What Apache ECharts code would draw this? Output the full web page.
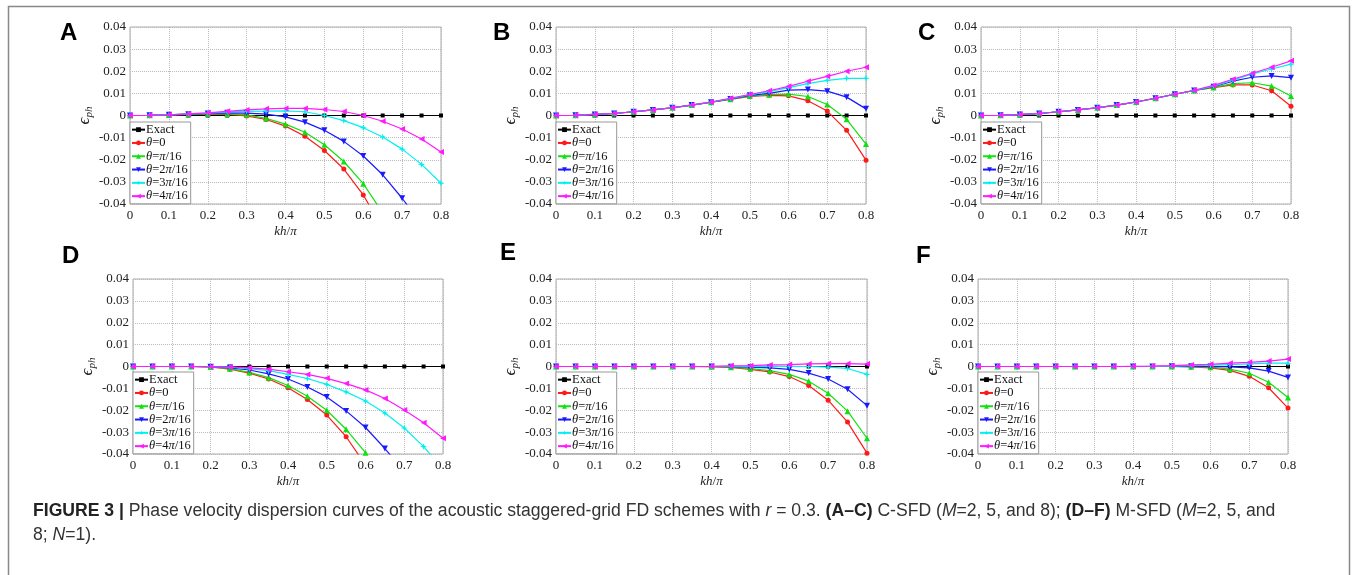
<!DOCTYPE html>
<html>
<head>
<meta charset="utf-8">
<script src="https://cdn.jsdelivr.net/npm/echarts@6/dist/echarts.min.js"></script>
<style>
html, body { margin: 0; padding: 0; background: #fff; }
#chart { width: 1356px; height: 575px; }
</style>
</head>
<body>
<div id="chart"></div>
<script>
// kh/pi sample points, shared by every panel
const KH = [0, 0.05, 0.1, 0.15, 0.2, 0.25, 0.3, 0.35, 0.4, 0.45, 0.5, 0.55, 0.6, 0.65, 0.7, 0.75, 0.8]
const EXACT = [0, 0, 0, 0, 0, 0, 0, 0, 0, 0, 0, 0, 0, 0, 0, 0, 0]

// (A) C-SFD M=2
const A_T0 = [0, 0.0001, 0.0003, 0.0005, 0.0006, 0.0005, -0.0002, -0.0018, -0.0048, -0.0094, -0.0158, -0.0242, -0.0359, -0.051, -0.069, -0.091, -0.117]
const A_T1 = [0, 0.0001, 0.0003, 0.0005, 0.0007, 0.0007, 0.0003, -0.0013, -0.0039, -0.0076, -0.0132, -0.0208, -0.0308, -0.044, -0.060, -0.080, -0.104]
const A_T2 = [0, 0.0001, 0.0003, 0.0006, 0.0009, 0.0012, 0.0011, 0.0006, -0.0006, -0.0030, -0.0067, -0.0117, -0.0183, -0.0268, -0.0374, -0.049, -0.062]
const A_T3 = [0, 0.0001, 0.0003, 0.0007, 0.0011, 0.0016, 0.0019, 0.0020, 0.0021, 0.0017, 0.0000, -0.0023, -0.0055, -0.0097, -0.0152, -0.0221, -0.0306]
const A_T4 = [0, 0.0001, 0.0003, 0.0007, 0.0012, 0.0019, 0.0025, 0.0030, 0.0032, 0.0032, 0.0027, 0.0018, 0.0000, -0.0026, -0.0061, -0.0106, -0.0165]

// (B) C-SFD M=5
const B_T0 = [0, 0.0001, 0.0005, 0.0009, 0.0017, 0.0025, 0.0035, 0.0047, 0.0060, 0.0073, 0.0086, 0.0091, 0.0089, 0.0067, 0.0020, -0.0067, -0.0202]
const B_T1 = [0, 0.0001, 0.0005, 0.0009, 0.0017, 0.0025, 0.0035, 0.0047, 0.0060, 0.0074, 0.0088, 0.0094, 0.0097, 0.0086, 0.0050, -0.0017, -0.0129]
const B_T2 = [0, 0.0001, 0.0005, 0.0009, 0.0017, 0.0025, 0.0035, 0.0047, 0.0060, 0.0075, 0.0091, 0.0100, 0.0115, 0.0117, 0.0110, 0.0083, 0.0030]
const B_T3 = [0, 0.0001, 0.0005, 0.0009, 0.0017, 0.0025, 0.0035, 0.0047, 0.0061, 0.0076, 0.0094, 0.0108, 0.0126, 0.0144, 0.0159, 0.0168, 0.0168]
const B_T4 = [0, 0.0001, 0.0005, 0.0009, 0.0017, 0.0025, 0.0035, 0.0047, 0.0061, 0.0078, 0.0095, 0.0112, 0.0132, 0.0155, 0.0177, 0.0200, 0.0218]

// (C) C-SFD M=8
const C_T0 = [0, 0.0001, 0.0004, 0.0009, 0.0017, 0.0025, 0.0035, 0.0047, 0.0061, 0.0078, 0.0096, 0.0113, 0.0126, 0.0138, 0.0138, 0.0112, 0.0042]
const C_T1 = [0, 0.0001, 0.0004, 0.0009, 0.0017, 0.0025, 0.0035, 0.0047, 0.0061, 0.0078, 0.0096, 0.0113, 0.0127, 0.0144, 0.0148, 0.0133, 0.0088]
const C_T2 = [0, 0.0001, 0.0004, 0.0009, 0.0017, 0.0025, 0.0035, 0.0047, 0.0061, 0.0078, 0.0096, 0.0113, 0.0130, 0.0155, 0.0173, 0.0179, 0.0171]
const C_T3 = [0, 0.0001, 0.0004, 0.0009, 0.0017, 0.0025, 0.0035, 0.0047, 0.0061, 0.0078, 0.0096, 0.0113, 0.0133, 0.0160, 0.0188, 0.0210, 0.0232]
const C_T4 = [0, 0.0001, 0.0004, 0.0009, 0.0017, 0.0025, 0.0035, 0.0047, 0.0061, 0.0078, 0.0096, 0.0114, 0.0136, 0.0164, 0.0191, 0.0218, 0.0247]

// (D) M-SFD M=2
const D_T0 = [0, 0, 0, 0, -0.0002, -0.0012, -0.0030, -0.0057, -0.0097, -0.0151, -0.0222, -0.0321, -0.045, -0.062, -0.082, -0.107, -0.136]
const D_T1 = [0, 0, 0, 0, -0.0002, -0.0010, -0.0027, -0.0051, -0.0087, -0.0136, -0.0200, -0.0287, -0.0394, -0.053, -0.070, -0.090, -0.113]
const D_T2 = [0, 0, 0, 0, -0.0001, -0.0006, -0.0016, -0.0034, -0.0057, -0.0094, -0.0139, -0.0203, -0.0279, -0.0375, -0.048, -0.061, -0.076]
const D_T3 = [0, 0, 0, 0, -0.0001, -0.0003, -0.0010, -0.0019, -0.0036, -0.0055, -0.0082, -0.0116, -0.0158, -0.0213, -0.0281, -0.0366, -0.047]
const D_T4 = [0, 0, 0, 0, -0.0001, -0.0002, -0.0006, -0.0012, -0.0024, -0.0036, -0.0054, -0.0078, -0.0107, -0.0146, -0.0199, -0.0257, -0.0328]

// (E) M-SFD M=5
const E_T0 = [0, 0, 0, 0, 0, 0, 0, 0, -0.0001, -0.0004, -0.0013, -0.0025, -0.0046, -0.0087, -0.0154, -0.0254, -0.0396]
const E_T1 = [0, 0, 0, 0, 0, 0, 0, 0, -0.0001, -0.0003, -0.0010, -0.0019, -0.0036, -0.0067, -0.0122, -0.0204, -0.0328]
const E_T2 = [0, 0, 0, 0, 0, 0, 0, 0, 0, -0.0001, -0.0003, -0.0006, -0.0013, -0.0030, -0.0057, -0.0104, -0.0179]
const E_T3 = [0, 0, 0, 0, 0, 0, 0, 0, 0, 0.0001, 0.0001, 0.0002, 0.0001, 0.0000, -0.0003, -0.0009, -0.0036]
const E_T4 = [0, 0, 0, 0, 0, 0, 0, 0, 0.0001, 0.0003, 0.0004, 0.0007, 0.0009, 0.0012, 0.0013, 0.0013, 0.0011]

// (F) M-SFD M=8
const F_T0 = [0, 0, 0, 0, 0, 0, 0, 0, 0, 0, 0, -0.0002, -0.0006, -0.0018, -0.0045, -0.0097, -0.0190]
const F_T1 = [0, 0, 0, 0, 0, 0, 0, 0, 0, 0, 0, -0.0001, -0.0003, -0.0012, -0.0031, -0.0072, -0.0142]
const F_T2 = [0, 0, 0, 0, 0, 0, 0, 0, 0, 0, 0.0001, 0.0001, 0, -0.0002, -0.0006, -0.0021, -0.0050]
const F_T3 = [0, 0, 0, 0, 0, 0, 0, 0, 0, 0.0001, 0.0002, 0.0004, 0.0006, 0.0009, 0.0012, 0.0015, 0.0015]
const F_T4 = [0, 0, 0, 0, 0, 0, 0, 0, 0.0001, 0.0002, 0.0004, 0.0007, 0.0010, 0.0015, 0.0019, 0.0025, 0.0034]

const NAMES = ['Exact', 'θ=0', 'θ=π/16', 'θ=2π/16', 'θ=3π/16', 'θ=4π/16']
const PANEL_DATA = [
  [EXACT, A_T0, A_T1, A_T2, A_T3, A_T4],
  [EXACT, B_T0, B_T1, B_T2, B_T3, B_T4],
  [EXACT, C_T0, C_T1, C_T2, C_T3, C_T4],
  [EXACT, D_T0, D_T1, D_T2, D_T3, D_T4],
  [EXACT, E_T0, E_T1, E_T2, E_T3, E_T4],
  [EXACT, F_T0, F_T1, F_T2, F_T3, F_T4]
]
const LETTERS = ['A', 'B', 'C', 'D', 'E', 'F']

// layout of the six plots (px)
const LAYOUT = [
  {left: 130, top: 27, width: 311, height: 177, lx: 70, ly: 34},
  {left: 556, top: 27, width: 310, height: 177, lx: 503, ly: 34},
  {left: 981, top: 27, width: 310, height: 177, lx: 928, ly: 34},
  {left: 133, top: 279, width: 310, height: 175, lx: 72, ly: 257},
  {left: 556, top: 279, width: 311, height: 175, lx: 510, ly: 254},
  {left: 978, top: 279, width: 310, height: 175, lx: 926, ly: 257}
]

const COLORS = ['#000000', '#ff1a1a', '#11e011', '#1a1aff', '#00f0f0', '#ff1aff']
const STAR = 'path://M0,-5L1.2,-1.2L5,0L1.2,1.2L0,5L-1.2,1.2L-5,0L-1.2,-1.2Z'
const SYMBOLS = ['rect', 'circle', 'triangle', 'triangle', STAR, 'triangle']
const ROTATE = [0, 0, 0, 180, 0, 90]
const SIZES = [4, 5, 6, 6, 7, 6]

const SERIF = '"Liberation Serif", "DejaVu Serif", serif'
const SANS = '"Liberation Sans", Arial, sans-serif'

function fmtY (v) {
  if (Math.abs(v) < 1e-9) return '0'
  return v.toFixed(2)
}
function fmtX (v) {
  if (Math.abs(v) < 1e-9) return '0'
  return v.toFixed(1)
}

function buildOption () {
  const grid = []
  const xAxis = []
  const yAxis = []
  const legend = []
  const series = []
  const graphic = []

  LAYOUT.forEach((g, i) => {
    grid.push({left: g.left, top: g.top, width: g.width, height: g.height,
      show: true, borderColor: '#aaa', borderWidth: 1})
    xAxis.push({
      type: 'value', gridIndex: i, min: 0, max: 0.8, interval: 0.1,
      name: '{i|kh}/{i|π}', nameLocation: 'middle', nameGap: 21,
      nameTextStyle: {fontFamily: SERIF, fontSize: 13, color: '#222',
        rich: {i: {fontFamily: SERIF, fontSize: 13, fontStyle: 'italic', color: '#222'}}},
      axisLine: {show: false}, axisTick: {show: false},
      axisLabel: {formatter: fmtX, fontFamily: SERIF, fontSize: 13, color: '#222', margin: 5},
      splitLine: {lineStyle: {type: 'dotted', color: '#bbb', width: 1}}
    })
    yAxis.push({
      type: 'value', gridIndex: i, min: -0.04, max: 0.04, interval: 0.01,
      name: '{e|ϵ}{s|ph}', nameLocation: 'middle', nameGap: 38, nameRotate: 90,
      nameTextStyle: {
        rich: {
          e: {fontFamily: SERIF, fontSize: 17, fontStyle: 'italic', color: '#222', lineHeight: 14},
          s: {fontFamily: SERIF, fontSize: 11, fontStyle: 'italic', color: '#222', lineHeight: 10, padding: [10, 0, 0, 0]}
        }
      },
      axisLine: {show: false}, axisTick: {show: false},
      axisLabel: {formatter: fmtY, fontFamily: SERIF, fontSize: 13, color: '#222', margin: 4},
      splitLine: {lineStyle: {type: 'dotted', color: '#bbb', width: 1}}
    })
    legend.push({
      data: NAMES, orient: 'vertical', selectedMode: false,
      left: g.left, top: g.top + g.height - 82,
      itemWidth: 13, itemHeight: 6, itemGap: 0,
      padding: [1, 3, 1, 1],
      backgroundColor: '#fff', borderColor: '#999', borderWidth: 1,
      formatter: name => name.replace('θ', '{i|θ}').replace('π', '{i|π}'),
      textStyle: {fontFamily: SERIF, fontSize: 12.5, color: '#111', lineHeight: 13.3,
        padding: [0, 0, 0, -4],
        rich: {i: {fontFamily: SERIF, fontSize: 12.5, fontStyle: 'italic', color: '#111', lineHeight: 13.3}}}
    })
    PANEL_DATA[i].forEach((vals, j) => {
      series.push({
        type: 'line', name: NAMES[j], xAxisIndex: i, yAxisIndex: i,
        data: KH.map((x, k) => [x, vals[k]]),
        symbol: SYMBOLS[j], symbolSize: SIZES[j], symbolRotate: ROTATE[j],
        showAllSymbol: true, clip: true,
        lineStyle: {color: COLORS[j], width: 1.2},
        itemStyle: {color: COLORS[j]},
        emphasis: {disabled: true},
        animation: false
      })
    })
    graphic.push({type: 'text', left: g.lx - 10, top: g.ly - 13,
      style: {text: LETTERS[i], fontFamily: SANS, fontWeight: 'bold', fontSize: 24, fill: '#000'}})
  })

  // outer frame + caption
  graphic.push({type: 'rect', shape: {x: 8.5, y: 6.5, width: 1341, height: 620},
    style: {fill: null, stroke: '#888', lineWidth: 1.5}, silent: true})
  const capRich = {
    b: {fontFamily: SANS, fontWeight: 'bold', fontSize: 17.6, fill: '#222'},
    i: {fontFamily: SANS, fontStyle: 'italic', fontSize: 17.6, fill: '#333'}
  }
  graphic.push({type: 'text', left: 33, top: 502,
    style: {text: '{b|FIGURE 3 |} Phase velocity dispersion curves of the acoustic staggered-grid FD schemes with {i|r} = 0.3. {b|(A–C)} C-SFD ({i|M}=2, 5, and 8); {b|(D–F)} M-SFD ({i|M}=2, 5, and',
      fontFamily: SANS, fontSize: 17.6, fill: '#333', rich: capRich}})
  graphic.push({type: 'text', left: 33, top: 526,
    style: {text: '8; {i|N}=1).', fontFamily: SANS, fontSize: 17.6, fill: '#333', rich: capRich}})

  return {animation: false, backgroundColor: '#fff', grid, xAxis, yAxis, legend, series, graphic}
}

const chart = echarts.init(document.getElementById('chart'))
chart.setOption(buildOption())
</script>
</body>
</html>
